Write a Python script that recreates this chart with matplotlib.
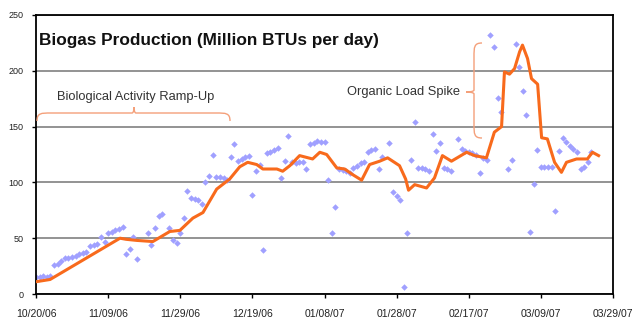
import matplotlib
matplotlib.use("Agg")
import matplotlib.pyplot as plt
from matplotlib.path import Path
from matplotlib.patches import PathPatch
import pandas as pd

plt.rcParams['font.family'] = ['Liberation Sans', 'DejaVu Sans']

START = "2006-10-20"

# daily biogas readings (day offset from start, Million BTUs/day)
pt_days = [0, 1, 2, 3, 4, 5, 6, 7, 8, 9, 10, 11, 12, 13, 14, 15, 16, 17, 18, 19,
           20, 21, 22, 23, 24, 25, 26, 27, 28, 31, 32, 33, 34, 35, 37, 38, 39, 40,
           41, 42, 43, 44, 45, 46, 47, 48, 49, 50, 51, 52, 53, 54, 55, 56, 57, 58,
           59, 60, 61, 62, 63, 64, 65, 66, 67, 68, 69, 70, 71, 72, 73, 74, 75, 76,
           77, 78, 79, 80, 81, 82, 83, 84, 85, 86, 87, 88, 89, 90, 91, 92, 93, 94,
           95, 96, 98, 99, 100, 101, 102, 103, 104, 105, 106, 107, 108, 109, 110,
           111, 112, 113, 114, 115, 117, 118, 119, 120, 121, 122, 123, 124, 125,
           126, 127, 128, 129, 131, 132, 133, 134, 135, 136, 137, 138, 139, 140,
           141, 142, 143, 144, 145, 146, 147, 148, 149, 150, 151, 152, 153, 154]
pt_vals = [15, 15, 16, 15, 16, 26, 27, 30, 32, 32, 33, 34, 36, 37, 38, 43, 44, 45, 51, 47,
           55, 56, 57, 58, 60, 36, 40, 51, 31, 55, 44, 59, 70, 72, 59, 48, 46, 55,
           68, 92, 86, 85, 84, 81, 100, 106, 125, 105, 105, 104, 102, 123, 134, 119, 121, 123,
           124, 89, 110, 116, 39, 126, 127, 129, 131, 104, 119, 142, 118, 117, 118, 118, 112, 134,
           135, 137, 136, 136, 102, 55, 78, 112, 111, 110, 108, 113, 115, 117, 118, 127, 129, 130,
           112, 123, 135, 91, 88, 84, 6, 55, 120, 154, 113, 113, 112, 110, 143,
           128, 135, 113, 112, 110, 139, 130, 128, 127, 126, 125, 108, 122, 120,
           232, 221, 176, 163, 112, 120, 224, 203, 182, 160, 56, 99, 129, 114,
           114, 114, 114, 74, 128, 140, 136, 133, 130, 127, 112, 114, 118, 127]

# trend line (day offset, value)
line_days = [0, 3.9, 23.3, 25, 28, 32.4, 37.1, 39.9, 43.5, 46.3, 50.1, 53.7, 56.5, 58.7,
             61.2, 62.9, 66.8, 68.4, 70.4, 73.1, 76.7, 78.7, 80.6, 83.4, 85.6, 87.8,
             90.3, 92.5, 95.3, 97.5, 100.8, 102.5, 103.3, 105, 108.3, 110.5, 112.7,
             115.2, 119.4, 121.6, 124.9, 127.1, 129.1, 129.9, 131.3, 132.7, 134.1,
             134.9, 136.3, 137.4, 139.1, 140.2, 141.8, 143.8, 145.7, 147.1, 149.9,
             152.9, 154.3, 156]
line_vals = [11, 13, 50, 49, 48, 47, 56, 57, 68, 73, 94, 103, 114, 118,
             116, 112, 112, 110, 115, 124, 121, 127, 125, 113, 112, 107,
             102, 116, 119, 122, 115, 103, 93, 98, 95, 104, 124,
             119, 127, 124, 122, 145, 150, 199, 197, 202, 217,
             223, 211, 193, 188, 140, 139, 118, 109, 118, 121,
             121, 127, 124]

tick_labels = ["10/20/06", "11/09/06", "11/29/06", "12/19/06", "01/08/07",
               "01/28/07", "02/17/07", "03/09/07", "03/29/07"]
y_ticks = [0, 50, 100, 150, 200, 250]

start = pd.Timestamp(START)
pt_dates = start + pd.to_timedelta(pt_days, unit="D")
line_dates = start + pd.to_timedelta(line_days, unit="D")
tick_dates = [pd.Timestamp(pd.to_datetime(t, format="%m/%d/%y")) for t in tick_labels]

W, H = 640, 325
fig = plt.figure(figsize=(W / 100, H / 100), dpi=100)
ax = fig.add_axes([36 / W, 1 - 294 / H, (613 - 36) / W, (294 - 15) / H])

ax.set_ylim(0, 250)
ax.set_xlim(tick_dates[0], tick_dates[-1])
ax.set_yticks(y_ticks)
ax.set_yticklabels([str(v) for v in y_ticks])
ax.set_xticks(tick_dates)
ax.set_xticklabels(tick_labels)
ax.tick_params(axis="both", length=3, width=1, color="black")
ax.tick_params(axis="x", labelsize=7.5, pad=8)
ax.tick_params(axis="y", labelsize=6.5, pad=6)
for lab in ax.get_xticklabels() + ax.get_yticklabels():
    lab.set_color("#222222")
for s in ax.spines.values():
    s.set_color("black")
    s.set_linewidth(1.3)
ax.yaxis.grid(True, color="#808080", linewidth=1.2)
ax.set_axisbelow(True)

ax.plot(pt_dates, pt_vals, linestyle="none", marker="D", markersize=3.3,
        color="#a0a0ff", markeredgewidth=0, zorder=2)
ax.plot(line_dates, line_vals, color="#f86a1c", linewidth=2.2, zorder=3)

# annotations (figure pixel coordinates)
def fx(x):
    return x / W

def fy(y):
    return 1 - y / H

fig.text(fx(39), fy(40), "Biogas Production (Million BTUs per day)", fontsize=12.4,
         fontweight="bold", ha="left", va="center", color="#111111")
fig.text(fx(136), fy(97), "Biological Activity Ramp-Up", fontsize=9.3, ha="center",
         va="center", color="#333333")
fig.text(fx(460), fy(92), "Organic Load Spike", fontsize=9.3, ha="right", va="center",
         color="#333333")

brace_color = "#f4a07a"
codes = [Path.MOVETO] + [Path.CURVE4] * 18
# horizontal brace
x0, x1, xm, yb, yt, ye = 37, 230, 134, 113, 107, 121
verts = [(x0, ye), (x0, yb), (x0 + 4, yb), (x0 + 14, yb),
         (xm - 8, yb), (xm - 8, yb), (xm - 2, yb),
         (xm, yb), (xm, yt), (xm, yt),
         (xm, yt), (xm, yb), (xm + 2, yb),
         (xm + 8, yb), (xm + 8, yb), (x1 - 14, yb),
         (x1 - 4, yb), (x1, yb), (x1, ye)]
p = Path([(fx(a), fy(b)) for a, b in verts], codes)
fig.add_artist(PathPatch(p, transform=fig.transFigure, fill=False, edgecolor=brace_color, linewidth=1))

# vertical brace
xr, xb, xt = 482, 474, 466
y0, y1, ym = 43, 138, 92
verts = [(xr, y0), (xb, y0), (xb, y0 + 4), (xb, y0 + 14),
         (xb, ym - 8), (xb, ym - 8), (xb, ym - 2),
         (xb, ym), (xt, ym), (xt, ym),
         (xt, ym), (xb, ym), (xb, ym + 2),
         (xb, ym + 8), (xb, ym + 8), (xb, y1 - 14),
         (xb, y1 - 4), (xb, y1), (xr, y1)]
p = Path([(fx(a), fy(b)) for a, b in verts], codes)
fig.add_artist(PathPatch(p, transform=fig.transFigure, fill=False, edgecolor=brace_color, linewidth=1))

fig.savefig("out.png", dpi=100)
